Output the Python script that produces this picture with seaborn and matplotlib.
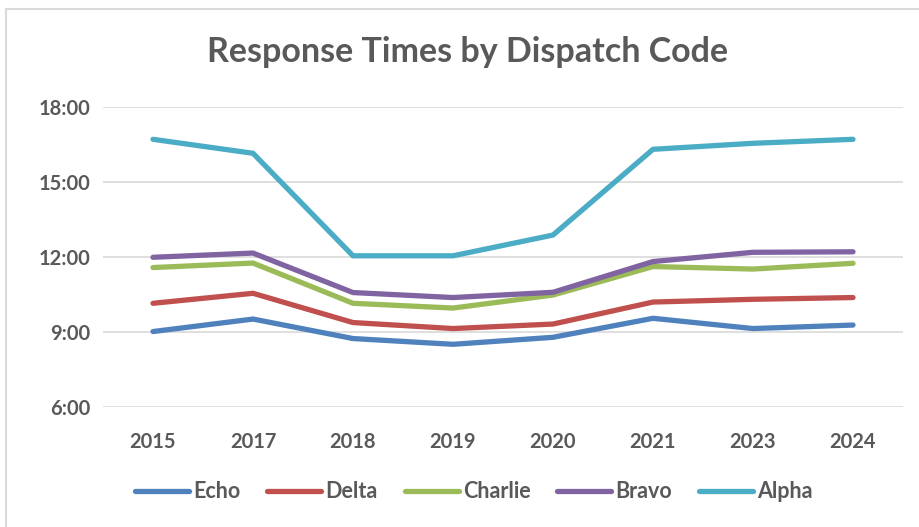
import pandas as pd
import numpy as np
import matplotlib.pyplot as plt
import seaborn as sns
from matplotlib.lines import Line2D
from matplotlib.ticker import FuncFormatter

years = ['2015', '2017', '2018', '2019', '2020', '2021', '2023', '2024']
# response times in minutes
echo = [9.03, 9.53, 8.75, 8.52, 8.80, 9.56, 9.15, 9.29]
delta = [10.16, 10.56, 9.39, 9.15, 9.33, 10.21, 10.32, 10.39]
charlie = [11.59, 11.77, 10.16, 9.97, 10.49, 11.63, 11.53, 11.76]
bravo = [12.00, 12.17, 10.59, 10.39, 10.60, 11.83, 12.20, 12.22]
alpha = [16.72, 16.16, 12.06, 12.06, 12.89, 16.32, 16.56, 16.72]

codes = ['Echo', 'Delta', 'Charlie', 'Bravo', 'Alpha']
colors = ['#4F81BD', '#C0504D', '#9BBB59', '#8064A2', '#4BACC6']

df = pd.DataFrame({'Year': years * 5,
                   'Code': np.repeat(codes, len(years)),
                   'Minutes': echo + delta + charlie + bravo + alpha})
df['pos'] = df['Year'].map({y: i for i, y in enumerate(years)})

sns.set_style('white')
plt.rcParams['font.family'] = ['Lato', 'DejaVu Sans']
txt = '#595959'

fig = plt.figure(figsize=(9.2, 5.27), dpi=100)
ax = fig.add_axes([103/920, 1 - 407.3/527, 800/920, 300/527])

sns.lineplot(data=df, x='pos', y='Minutes', hue='Code', hue_order=codes,
             palette=dict(zip(codes, colors)), linewidth=3.8, sort=False,
             legend=False, ax=ax, solid_capstyle='round', solid_joinstyle='round')

ax.set_xlim(-0.5, len(years) - 0.5)
ax.set_ylim(6, 18)
ax.set_yticks([6, 9, 12, 15, 18])
ax.yaxis.set_major_formatter(FuncFormatter(lambda v, p: f'{int(v)}:{int(round((v % 1) * 60)):02d}'))
ax.set_xticks(range(len(years)))
ax.set_xticklabels(years)
ax.grid(axis='y', color='#D9D9D9', linewidth=1.2)
ax.set_axisbelow(True)
for s in ax.spines.values():
    s.set_visible(False)
ax.tick_params(axis='both', length=0, labelsize=14.5, labelcolor=txt)
ax.tick_params(axis='x', pad=18)
ax.tick_params(axis='y', pad=9)
for lab in ax.get_xticklabels() + ax.get_yticklabels():
    lab.set_fontweight('bold')
ax.set_xlabel('')
ax.set_ylabel('')

fig.text(468/920, 1 - 52/527, 'Response Times by Dispatch Code', ha='center', va='center',
         fontsize=24.5, fontweight='bold', color=txt)

handles = [Line2D([], [], color=c, linewidth=3.8, solid_capstyle='round') for c in colors]
leg = fig.legend(handles, codes, loc='center', bbox_to_anchor=(474/920, 1 - 492/527), ncol=5,
                 frameon=False, handlelength=2.5, handletextpad=0.2, columnspacing=1.25,
                 prop={'size': 15.5, 'weight': 'bold'})
for t in leg.get_texts():
    t.set_color(txt)

# chart area border (top and left visible)
fig.add_artist(Line2D([6.5/920, 1], [1 - 8.5/527, 1 - 8.5/527], color='#D9D9D9', linewidth=1.5))
fig.add_artist(Line2D([6.5/920, 6.5/920], [0, 1 - 8.5/527], color='#D9D9D9', linewidth=1.5))

fig.savefig('out.png', dpi=100)
